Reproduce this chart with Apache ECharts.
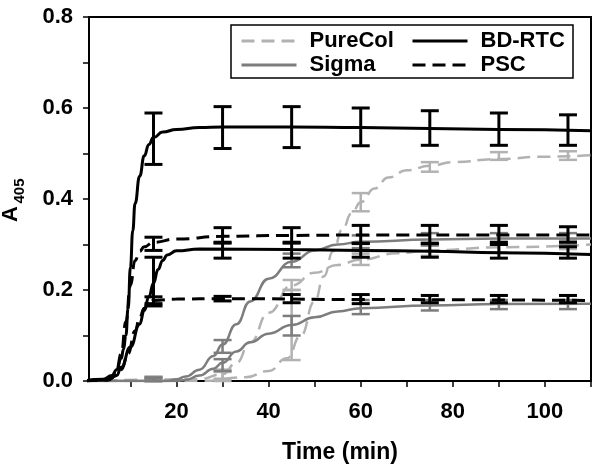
<!DOCTYPE html>
<html>
<head>
<meta charset="utf-8">
<script src="https://cdn.jsdelivr.net/npm/echarts@6/dist/echarts.min.js"></script>
<style>
  html, body { margin: 0; padding: 0; background: #fff; }
  #chart { width: 600px; height: 469px; }
</style>
</head>
<body>
<div id="chart"></div>
<script>
// curves: [time (min), A405]
const purecolHigh = [[0,0],[25,0],[35,0.008],[40,0.022],[44,0.05],[47,0.1],[50,0.175],[52,0.23],[54,0.285],[56,0.333],[58,0.368],[60,0.393],[63,0.423],[66,0.447],[70,0.463],[75,0.473],[80,0.481],[90,0.488],[100,0.493],[110,0.496]]
const purecolLow = [[0,0],[25,0.004],[30,0.015],[33,0.04],[36,0.085],[40,0.15],[45,0.21],[50,0.238],[55,0.255],[60,0.267],[68,0.281],[75,0.287],[90,0.294],[110,0.3]]
const sigmaHigh = [[0,0],[18,0],[20,0.004],[22,0.01],[25,0.025],[28,0.055],[30,0.08],[33,0.125],[36,0.175],[40,0.225],[45,0.262],[50,0.287],[55,0.3],[60,0.306],[75,0.311],[90,0.313],[110,0.313]]
const sigmaLow = [[0,0],[20,0],[22,0.002],[25,0.012],[28,0.027],[30,0.04],[33,0.065],[36,0.085],[40,0.104],[45,0.123],[50,0.14],[55,0.153],[60,0.16],[75,0.166],[90,0.169],[110,0.17]]
const bdrtcHigh = [[0,0],[4,0.004],[6,0.012],[7,0.025],[8,0.05],[8.5,0.07],[9,0.1],[9.5,0.16],[10,0.25],[10.5,0.33],[11,0.39],[12,0.45],[13,0.495],[14,0.52],[15,0.535],[17,0.547],[20,0.553],[25,0.557],[30,0.558],[45,0.558],[60,0.557],[75,0.555],[90,0.553],[110,0.55]]
const bdrtcLow = [[0,0],[5,0.002],[7,0.012],[8,0.03],[10,0.075],[12,0.125],[13,0.155],[14,0.185],[15,0.215],[16,0.245],[17,0.265],[18,0.277],[20,0.286],[25,0.29],[45,0.289],[60,0.287],[75,0.285],[90,0.282],[110,0.278]]
const pscHigh = [[0,0],[5,0.004],[6,0.01],[7,0.025],[8,0.06],[9,0.13],[10,0.21],[11,0.265],[12,0.285],[13,0.295],[15,0.305],[20,0.312],[30,0.318],[45,0.32],[60,0.321],[110,0.321]]
const pscLow = [[0,0],[5,0.002],[7,0.012],[8,0.025],[9.5,0.06],[11,0.11],[12,0.14],[13,0.16],[14,0.172],[15,0.177],[20,0.18],[30,0.181],[60,0.179],[110,0.177]]

// error bars: [time, low, high]
const purecolHighErr = [[15,0,0.01],[30,0,0.02],[45,0.046,0.2],[60,0.373,0.413],[75,0.46,0.481],[90,0.486,0.503],[105,0.486,0.505]]
const purecolLowErr = [[15,0,0.008],[30,0.005,0.025],[45,0.2,0.222],[60,0.255,0.28],[75,0.275,0.298],[90,0.283,0.305],[105,0.29,0.31]]
const sigmaHighErr = [[15,0,0.008],[30,0.062,0.09],[45,0.25,0.28],[60,0.292,0.32],[75,0.298,0.325],[90,0.3,0.325],[105,0.3,0.325]]
const sigmaLowErr = [[15,0,0.006],[30,0.022,0.048],[45,0.1,0.143],[60,0.147,0.178],[75,0.155,0.178],[90,0.158,0.178],[105,0.158,0.178]]
const bdrtcHighErr = [[15,0.476,0.589],[30,0.511,0.603],[45,0.513,0.603],[60,0.517,0.6],[75,0.518,0.594],[90,0.518,0.589],[105,0.518,0.585]]
const bdrtcLowErr = [[15,0.17,0.272],[30,0.27,0.305],[45,0.27,0.305],[60,0.272,0.302],[75,0.272,0.302],[90,0.27,0.3],[105,0.27,0.295]]
const pscHighErr = [[15,0.287,0.316],[30,0.303,0.337],[45,0.303,0.337],[60,0.303,0.342],[75,0.303,0.342],[90,0.305,0.342],[105,0.305,0.339]]
const pscLowErr = [[15,0.165,0.185],[30,0.176,0.186],[45,0.172,0.19],[60,0.17,0.19],[75,0.172,0.188],[90,0.172,0.188],[105,0.172,0.188]]

const xLabels = [20, 40, 60, 80, 100]
const xTicks = [10, 20, 30, 40, 50, 60, 70, 80, 90, 100, 110]
const yLabels = [0, 0.2, 0.4, 0.6, 0.8]
const yTicks = [0, 0.1, 0.2, 0.3, 0.4, 0.5, 0.6, 0.7, 0.8]

const FONT = '"Liberation Sans", Arial, sans-serif'
const LIGHT = '#b2b2b2'
const GRAY = '#7d7d7d'
const BLACK = '#000'

function curve(name, data, color, dashed, z) {
  return {
    type: 'line', name, data, z,
    showSymbol: false, symbol: 'none',
    smooth: 0.5, smoothMonotone: 'x',
    lineStyle: { color, width: color === BLACK ? 3 : 2.5, type: dashed ? [13, 7] : 'solid' },
    itemStyle: { color },
  }
}

function errBars(data, color, z) {
  return {
    type: 'custom', name: 'err', data, z, clip: false,
    encode: { x: 0, y: [1, 2] },
    renderItem(params, api) {
      const x = api.value(0)
      const lo = api.coord([x, api.value(1)])
      const hi = api.coord([x, api.value(2)])
      const w = 9
      const style = { stroke: color, lineWidth: color === BLACK ? 3 : 2.5 }
      return {
        type: 'group',
        children: [
          { type: 'line', shape: { x1: lo[0], y1: lo[1], x2: hi[0], y2: hi[1] }, style },
          { type: 'line', shape: { x1: lo[0] - w, y1: lo[1], x2: lo[0] + w, y2: lo[1] }, style },
          { type: 'line', shape: { x1: hi[0] - w, y1: hi[1], x2: hi[0] + w, y2: hi[1] }, style },
        ],
      }
    },
  }
}

const legendText = { fontFamily: FONT, fontSize: 22, fontWeight: 'bold', color: '#000', lineHeight: 19, padding: [0, 0, 0, 8] }
const legendBase = { orient: 'vertical', top: 30, itemWidth: 55, itemHeight: 10, itemGap: 2, padding: 0, itemStyle: { opacity: 0 }, lineStyle: { width: 3 }, textStyle: legendText }

const chart = echarts.init(document.getElementById('chart'))
chart.setOption({
  animation: false,
  backgroundColor: '#fff',
  grid: { left: 89, right: 9, top: 17, bottom: 81, show: true, borderColor: '#000', borderWidth: 2 },
  legend: [
    { ...legendBase, data: ['PureCol', 'Sigma'], left: 240 },
    { ...legendBase, data: ['BD-RTC', 'PSC'], left: 411 },
  ],
  xAxis: {
    type: 'value', min: 1, max: 110,
    name: 'Time (min)', nameLocation: 'middle', nameGap: 60,
    nameTextStyle: { fontFamily: FONT, fontSize: 23, fontWeight: 'bold', color: '#000' },
    axisLine: { onZero: false, lineStyle: { color: '#000', width: 2 } },
    axisTick: { customValues: xTicks, length: 6, lineStyle: { color: '#000', width: 1.5 } },
    axisLabel: { customValues: xLabels, margin: 20, fontFamily: FONT, fontSize: 22, fontWeight: 'bold', color: '#000' },
    splitLine: { show: false },
  },
  yAxis: {
    type: 'value', min: 0, max: 0.8,
    axisLine: { show: true, lineStyle: { color: '#000', width: 2 } },
    axisTick: { show: true, customValues: yTicks, length: 6, lineStyle: { color: '#000', width: 1.5 } },
    axisLabel: { customValues: yLabels, margin: 16, formatter: (v) => v.toFixed(1), fontFamily: FONT, fontSize: 22, fontWeight: 'bold', color: '#000' },
    splitLine: { show: false },
  },
  graphic: [
    { type: 'rect', shape: { x: 231, y: 25, width: 342, height: 53 }, style: { fill: 'none', stroke: '#000', lineWidth: 1.5 }, z: 100 },
    { type: 'text', x: 11, y: 214, rotation: Math.PI / 2, style: { text: 'A', fontFamily: FONT, fontSize: 22, fontWeight: 'bold', fill: '#000', align: 'center', verticalAlign: 'middle' } },
    { type: 'text', x: 20, y: 191, rotation: Math.PI / 2, style: { text: '405', fontFamily: FONT, fontSize: 15, fontWeight: 'bold', fill: '#000', align: 'center', verticalAlign: 'middle' } },
  ],
  series: [
    curve('PureCol', purecolHigh, LIGHT, true, 2),
    curve('PureCol', purecolLow, LIGHT, true, 2),
    errBars(purecolHighErr, LIGHT, 2),
    errBars(purecolLowErr, LIGHT, 2),
    curve('Sigma', sigmaHigh, GRAY, false, 3),
    curve('Sigma', sigmaLow, GRAY, false, 3),
    errBars(sigmaHighErr, GRAY, 3),
    errBars(sigmaLowErr, GRAY, 3),
    curve('BD-RTC', bdrtcHigh, BLACK, false, 4),
    curve('BD-RTC', bdrtcLow, BLACK, false, 4),
    curve('PSC', pscHigh, BLACK, true, 4),
    curve('PSC', pscLow, BLACK, true, 4),
    errBars(bdrtcHighErr, BLACK, 4),
    errBars(bdrtcLowErr, BLACK, 4),
    errBars(pscHighErr, BLACK, 4),
    errBars(pscLowErr, BLACK, 4),
  ],
})
</script>
</body>
</html>
